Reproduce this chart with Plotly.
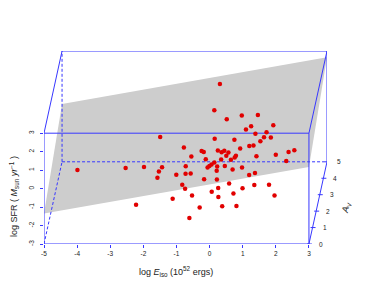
import plotly.graph_objects as go

# ---------------- data ----------------
log_eiso = [-0.07, -0.13, 0.70, 1.24, 0.30, 1.09, 0.88, 1.76, 1.22, 1.61,
            1.48, 1.74, 1.37, -1.71, -0.01, 0.64, 1.09, 1.27, 0.76, -0.94,
            -0.35, -0.34, 0.14, 0.39, 0.20, 0.46, 0.45, 0.65, 0.74, 0.48,
            0.24, -0.17, -0.66, 1.36, 1.89, 2.33, 2.45, 2.26, -4.10, -2.59,
            -2.09, -1.49, -1.64, -1.63, -1.06, -0.83, -0.78, -0.68, -0.22, -0.17,
            -0.06, -0.05, 0.09, 0.12, 0.16, 0.22, 0.35, 0.64, 0.87, 1.14,
            1.37, -0.88, -0.74, -1.17, -0.53, 0.01, 0.26, 0.21, 0.59, 0.72,
            0.94, 1.35, 1.74, 1.96, -2.22, -0.30, 0.38, 0.81, -0.61]
a_v = [3.5, 2.5, 2.5, 2.0, 2.0, 1.5, 2.0, 1.5, 1.5, 1.0,
       1.5, 1.0, 1.5, 2.0, 1.5, 1.0, 1.0, 0.5, 1.5, 1.5,
       1.0, 1.5, 1.0, 0.5, 1.5, 1.0, 0.5, 1.0, 0.5, 1.5,
       1.0, 0.5, 1.0, 0.5, 1.0, 0.5, 1.0, 0.5, 1.0, 0.5,
       1.0, 0.5, 1.0, 0.5, 0.5, 1.0, 0.5, 1.0, 0.5, 1.0,
       0.5, 1.0, 0.5, 1.0, 0.5, 0.0, 1.0, 0.5, 1.0, 0.5,
       0.0, 0.5, 0.0, 0.5, 0.0, 0.5, 0.0, 0.5, 0.0, 0.0,
       0.5, 0.0, 0.5, 0.0, 0.0, 0.0, 0.0, 0.0, 0.0]
log_sfr = [2.55, 2.02, 1.73, 2.21, 1.97, 2.04, 1.42, 2.10, 1.63, 2.16,
           1.44, 1.87, 1.23, 1.02, 1.36, 1.75, 1.41, 1.89, 0.84, 0.89,
           1.14, 0.64, 1.17, 1.60, 0.63, 1.07, 1.34, 0.80, 1.34, 0.22,
           0.69, 1.14, 0.85, 1.31, 0.94, 1.54, 1.19, 1.05, 0.11, 0.67,
           0.28, 0.71, 0.03, 0.14, 0.31, 0.32, 0.36, -0.07, 0.06, 0.25,
           0.78, 0.41, 0.97, 0.31, 0.52, 0.49, 0.33, 0.59, 0.25, 0.29,
           0.84, -0.24, -0.01, -0.99, -0.38, -0.62, 0.03, -0.90, 0.28, -0.27,
           -0.42, 0.19, -0.24, -0.37, -0.88, -1.02, -0.95, -0.94, -1.59]

eiso_ticks = [-5, -4, -3, -2, -1, 0, 1, 2, 3]
sfr_ticks = [-3, -2, -1, 0, 1, 2, 3]
av_ticks = [0, 1, 2, 3, 4, 5]

# fitted plane  log SFR = a + b*logE + c*A_V
PLANE_A, PLANE_B, PLANE_C = 0.225, 0.315, 0.297

# ---------------- projection (oblique, like scatterplot3d) ----------------
AV_DX, AV_DZ = 0.109, 0.89
XMIN, XMAX = eiso_ticks[0], eiso_ticks[-1]
ZMIN, ZMAX = sfr_ticks[0], sfr_ticks[-1]
AMIN, AMAX = av_ticks[0], av_ticks[-1]

xr = [XMIN, XMAX + AV_DX * AMAX]
yr = [ZMIN, ZMAX + AV_DZ * AMAX]


def proj(x, av, z):
    return x + AV_DX * av, z + AV_DZ * av


def to_paper(u, v):
    return (u - xr[0]) / (xr[1] - xr[0]), (v - yr[0]) / (yr[1] - yr[0])


BLUE = "rgb(55,55,255)"
fig = go.Figure()

# plane polygon
corners = [(XMIN, AMIN), (XMAX, AMIN), (XMAX, AMAX), (XMIN, AMAX), (XMIN, AMIN)]
px, py = [], []
for cx, ca in corners:
    u, v = proj(cx, ca, PLANE_A + PLANE_B * cx + PLANE_C * ca)
    px.append(u)
    py.append(v)
fig.add_trace(go.Scatter(x=px, y=py, mode="lines", fill="toself",
                         fillcolor="rgb(205,205,205)", line=dict(width=0),
                         hoverinfo="skip", showlegend=False))

# box edges
solid = [
    ((XMIN, AMIN, ZMIN), (XMAX, AMIN, ZMIN)),
    ((XMIN, AMIN, ZMAX), (XMAX, AMIN, ZMAX)),
    ((XMIN, AMIN, ZMIN), (XMIN, AMIN, ZMAX)),
    ((XMAX, AMIN, ZMIN), (XMAX, AMIN, ZMAX)),
    ((XMIN, AMAX, ZMAX), (XMAX, AMAX, ZMAX)),
    ((XMAX, AMAX, ZMIN), (XMAX, AMAX, ZMAX)),
    ((XMIN, AMIN, ZMAX), (XMIN, AMAX, ZMAX)),
    ((XMAX, AMIN, ZMAX), (XMAX, AMAX, ZMAX)),
    ((XMAX, AMIN, ZMIN), (XMAX, AMAX, ZMIN)),
]
dashed = [
    ((XMIN, AMAX, ZMIN), (XMIN, AMAX, ZMAX)),
    ((XMIN, AMAX, ZMIN), (XMAX, AMAX, ZMIN)),
    ((XMIN, AMIN, ZMIN), (XMIN, AMAX, ZMIN)),
]


def seg_trace(segs, dash):
    xs, ys = [], []
    for p0, p1 in segs:
        a = proj(*p0)
        b = proj(*p1)
        xs += [a[0], b[0], None]
        ys += [a[1], b[1], None]
    return go.Scatter(x=xs, y=ys, mode="lines",
                      line=dict(color=BLUE, width=1, dash=dash),
                      hoverinfo="skip", showlegend=False, cliponaxis=False)


fig.add_trace(seg_trace(solid, "solid"))
fig.add_trace(seg_trace(dashed, "3px,2px"))

# A_V axis ticks and labels
txs, tys = [], []
for t in av_ticks:
    u, v = proj(XMAX, t, ZMIN)
    txs += [u - 0.06, u + 0.09, None]
    tys += [v, v, None]
    pxp, pyp = to_paper(u, v)
    fig.add_annotation(x=pxp + 12 / 283, y=pyp, text=str(t), showarrow=False,
                       xref="paper", yref="paper", xanchor="center", yanchor="middle",
                       font=dict(size=6.5, color="#222"))
fig.add_trace(go.Scatter(x=txs, y=tys, mode="lines",
                         line=dict(color=BLUE, width=1),
                         hoverinfo="skip", showlegend=False, cliponaxis=False))

# points
sx, sy = [], []
for e, a, s in zip(log_eiso, a_v, log_sfr):
    u, v = proj(e, a, s)
    sx.append(u)
    sy.append(v)
fig.add_trace(go.Scatter(x=sx, y=sy, mode="markers",
                         marker=dict(color="rgb(225,0,0)", size=4.5, line=dict(width=0)),
                         hoverinfo="skip", showlegend=False))

fig.update_layout(
    width=374, height=307,
    margin=dict(l=44, r=47, t=51, b=63),
    paper_bgcolor="white", plot_bgcolor="white",
    font=dict(family="Liberation Sans, Arial, sans-serif", color="#222"),
    xaxis=dict(range=xr, tickvals=eiso_ticks, ticktext=[str(t) for t in eiso_ticks],
               ticks="outside", ticklen=3, tickcolor=BLUE, tickwidth=1,
               showgrid=False, zeroline=False, showline=False,
               tickfont=dict(size=6.5, color="#222")),
    yaxis=dict(range=yr, tickvals=sfr_ticks, ticktext=[str(t) for t in sfr_ticks],
               ticks="outside", ticklen=3, tickcolor=BLUE, tickwidth=1,
               tickangle=-90, ticklabelstandoff=3,
               showgrid=False, zeroline=False, showline=False,
               tickfont=dict(size=6.5, color="#222")),
)

fig.add_annotation(x=to_paper((XMIN + XMAX) / 2, 0)[0], y=-0.14, xref="paper", yref="paper",
                   text="log <i>E</i><sub>iso</sub> (10<sup>52</sup> ergs)",
                   showarrow=False, font=dict(size=9, color="#222"),
                   xanchor="center", yanchor="middle")
fig.add_annotation(x=-0.105, y=0.245, xref="paper", yref="paper",
                   text="log SFR ( <i>M</i><sub>sun</sub> <i>yr</i><sup>\u22121</sup> )",
                   showarrow=False, textangle=-90, font=dict(size=9, color="#222"),
                   xanchor="center", yanchor="middle")
fig.add_annotation(x=1.07, y=0.187, xref="paper", yref="paper",
                   text="<i>A</i><sub>V</sub>", showarrow=False, textangle=-78,
                   font=dict(size=9, color="#222"), xanchor="center", yanchor="middle")

fig.write_html("out.html", config={"displayModeBar": False},
               post_script="document.body.style.margin='0';")
